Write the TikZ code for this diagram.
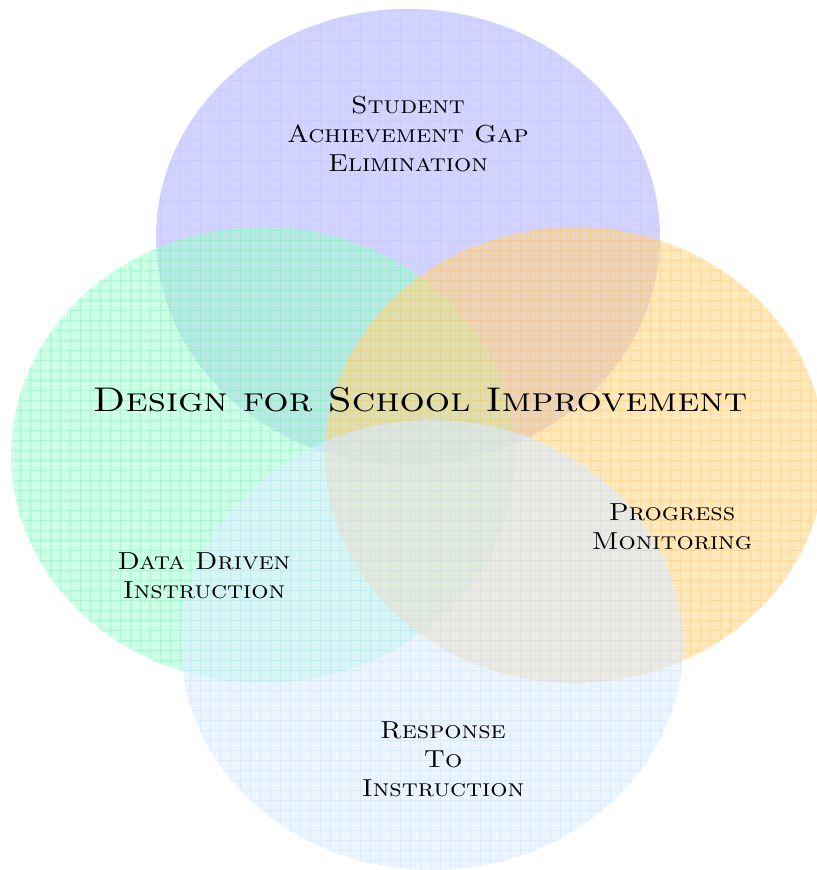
\documentclass[tikz,border=0pt]{standalone}
\usepackage{xcolor}
\usepackage{tikz}
\usetikzlibrary{positioning}

\definecolor{gapblue}{HTML}{C4C4FF}
\definecolor{gapline}{HTML}{B8B8F4}
\definecolor{datagreen}{HTML}{A0FFD0}
\definecolor{dataline}{HTML}{80F0B8}
\definecolor{progorange}{HTML}{FFD488}
\definecolor{progline}{HTML}{FFC458}
\definecolor{rtiblue}{HTML}{DCEDFF}
\definecolor{rtiline}{HTML}{C4DEFA}

\begin{document}
\begin{tikzpicture}[x=0.02cm,y=0.02cm,
    gridline/.style={line width=0.5pt,draw opacity=0.5},
    label/.style={align=center,xscale=1.1,transform shape,
      font=\fontsize{14}{16.5}\selectfont\scshape},
    title/.style={xscale=1.16,transform shape,
      font=\fontsize{19.5}{22}\selectfont\scshape}]
        \useasboundingbox (0,0) rectangle (817,870);
        % the four circles
        \fill[gapblue,fill opacity=0.75] (408,633) ellipse [x radius=252,y radius=228];
        \begin{scope}
          \clip (408,633) ellipse [x radius=252,y radius=228];
          \draw[gridline,gapline,draw opacity=0.25,step=10] (0,0) grid (817,870);
        \end{scope}
        \fill[datagreen,fill opacity=0.5] (263,415) ellipse [x radius=252,y radius=228];
        \begin{scope}
          \clip (263,415) ellipse [x radius=252,y radius=228];
          \draw[gridline,dataline,step=10] (0,0) grid (817,870);
        \end{scope}
        \fill[progorange,fill opacity=0.55] (575,415) ellipse [x radius=250,y radius=228];
        \begin{scope}
          \clip (575,415) ellipse [x radius=250,y radius=228];
          \draw[gridline,progline,draw opacity=0.4,step=10] (0,0) grid (817,870);
        \end{scope}
        \fill[rtiblue,fill opacity=0.55] (432,225) ellipse [x radius=251,y radius=225];
        \begin{scope}
          \clip (432,225) ellipse [x radius=251,y radius=225];
          \draw[gridline,rtiline,draw opacity=0.4,step=10] (0,0) grid (817,870);
        \end{scope}
        % labels
        \node[label] (gap) at (408,736) {Student\\Achievement Gap\\Elimination};
        \node[label] (prog) at (672,343) {Progress\\Monitoring};
        \node[label] (data) at (204,294) {Data Driven\\Instruction};
        \node[label] (rti) at (443,111) {Response\\To\\Instruction};
        \node[title] (dsi) at (420,470) {Design for School Improvement};
      \end{tikzpicture}
\end{document}
